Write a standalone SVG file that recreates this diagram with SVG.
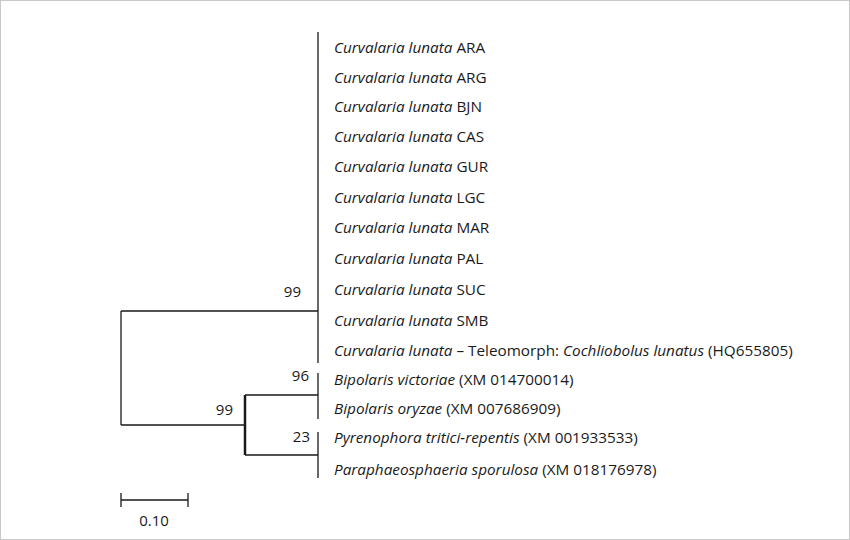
<svg xmlns="http://www.w3.org/2000/svg" width="850" height="540" viewBox="0 0 850 540">
<style>
.l{font-family:"Open Sans","Liberation Sans",sans-serif;font-size:15.3px;fill:#1a1a1a}
.b{font-family:"Open Sans","Liberation Sans",sans-serif;font-size:15px;fill:#1a1a1a}
.e{stroke:#1a1a1a;stroke-width:1.3;fill:none}
.t{stroke:#1a1a1a;stroke-width:2.5;fill:none}
</style>
<rect x="0.5" y="0.5" width="849" height="539" fill="#fff" stroke="#c8c8c8"/>
<g id="edges">
<path class="e" d="M121 311V425M121 311H318M318 32V363M121 425H245M245 395H318M245 455H318M318 373V419M318 432V478"/>
<path class="t" d="M245 395V455"/>
</g>
<g id="scale">
<path class="e" d="M121 500H188M121 493V507M188 493V507"/>
<text class="b" x="154" y="526" text-anchor="middle">0.10</text>
</g>
<g id="support">
<text class="b" x="301" y="297" text-anchor="end">99</text>
<text class="b" x="309" y="381" text-anchor="end">96</text>
<text class="b" x="233" y="415" text-anchor="end">99</text>
<text class="b" x="310" y="442" text-anchor="end">23</text>
</g>
<g id="leaves">
<text class="l" x="334" y="53"><tspan font-style="italic">Curvalaria lunata</tspan> ARA</text>
<text class="l" x="334" y="83"><tspan font-style="italic">Curvalaria lunata</tspan> ARG</text>
<text class="l" x="334" y="112"><tspan font-style="italic">Curvalaria lunata</tspan> BJN</text>
<text class="l" x="334" y="142"><tspan font-style="italic">Curvalaria lunata</tspan> CAS</text>
<text class="l" x="334" y="172"><tspan font-style="italic">Curvalaria lunata</tspan> GUR</text>
<text class="l" x="334" y="203"><tspan font-style="italic">Curvalaria lunata</tspan> LGC</text>
<text class="l" x="334" y="233"><tspan font-style="italic">Curvalaria lunata</tspan> MAR</text>
<text class="l" x="334" y="264"><tspan font-style="italic">Curvalaria lunata</tspan> PAL</text>
<text class="l" x="334" y="295"><tspan font-style="italic">Curvalaria lunata</tspan> SUC</text>
<text class="l" x="334" y="326"><tspan font-style="italic">Curvalaria lunata</tspan> SMB</text>
<text class="l" x="334" y="356"><tspan font-style="italic">Curvalaria lunata</tspan> – Teleomorph: <tspan font-style="italic">Cochliobolus lunatus</tspan> (HQ655805)</text>
<text class="l" x="334" y="385"><tspan font-style="italic">Bipolaris victoriae</tspan> (XM 014700014)</text>
<text class="l" x="334" y="414"><tspan font-style="italic">Bipolaris oryzae</tspan> (XM 007686909)</text>
<text class="l" x="334" y="443"><tspan font-style="italic">Pyrenophora tritici-repentis</tspan> (XM 001933533)</text>
<text class="l" x="334" y="475"><tspan font-style="italic">Paraphaeosphaeria sporulosa</tspan> (XM 018176978)</text>
</g>
</svg>
